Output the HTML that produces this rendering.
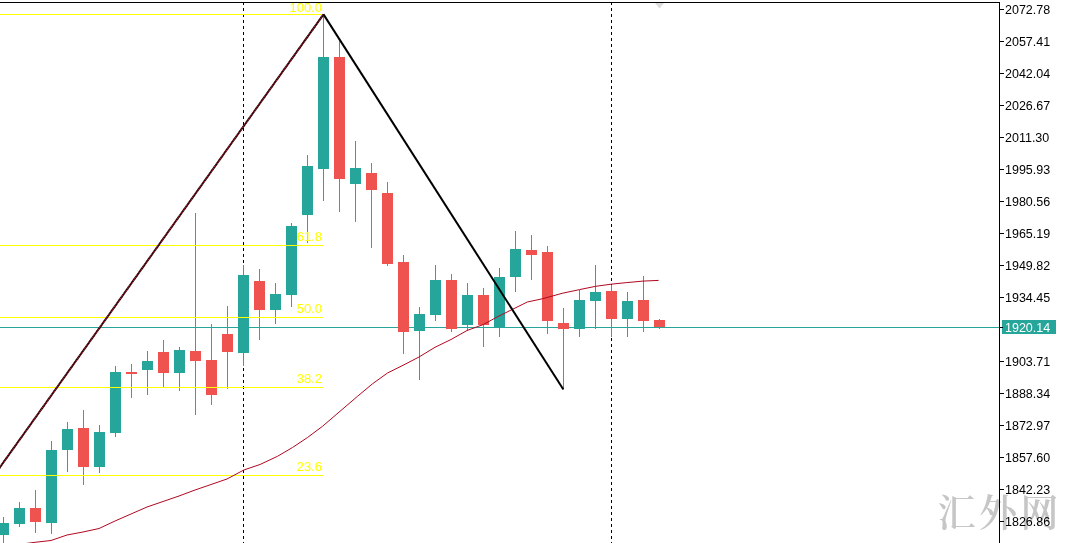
<!DOCTYPE html>
<html><head><meta charset="utf-8"><title>chart</title>
<style>
html,body{margin:0;padding:0;background:#fff;}
body{width:1068px;height:543px;overflow:hidden;position:relative;font-family:"Liberation Sans","Noto Sans CJK SC",sans-serif;}
svg{position:absolute;left:0;top:0;display:block;}
.ax{font-family:"Liberation Sans",sans-serif;font-size:12.5px;fill:#000;}
.fib{font-family:"Liberation Sans",sans-serif;font-size:13px;fill:#ffff00;}
.wm{font-family:"Noto Serif CJK SC","Noto Sans CJK SC",serif;font-size:38px;font-weight:600;fill:#c6c6c6;}
</style></head><body>
<svg width="1068" height="543" viewBox="0 0 1068 543">
<rect x="0" y="0" width="1068" height="543" fill="#fff"/>
<text class="wm" x="937.5" y="526" textLength="121">汇外网</text>
<line x1="243.5" y1="2" x2="243.5" y2="543" stroke="#000" stroke-width="1" stroke-dasharray="3 3" shape-rendering="crispEdges"/>
<line x1="611.5" y1="2" x2="611.5" y2="543" stroke="#000" stroke-width="1" stroke-dasharray="3 3" shape-rendering="crispEdges"/>
<polygon points="655,3 664,3 659.5,8.5" fill="#dcdcdc"/>
<rect x="0" y="327" width="1000" height="1" fill="#26a69a" shape-rendering="crispEdges"/>
<g shape-rendering="crispEdges">
<rect x="3" y="517" width="1" height="28" fill="#26a69a"/><rect x="-2" y="523" width="11" height="12" fill="#26a69a"/>
<rect x="19" y="502" width="1" height="25" fill="#26a69a"/><rect x="14" y="508" width="11" height="16" fill="#26a69a"/>
<rect x="35" y="490" width="1" height="43" fill="#ef5350"/><rect x="30" y="508" width="11" height="14" fill="#ef5350"/>
<rect x="51" y="441" width="1" height="93" fill="#26a69a"/><rect x="46" y="450" width="11" height="73" fill="#26a69a"/>
<rect x="67" y="422" width="1" height="50" fill="#26a69a"/><rect x="62" y="429" width="11" height="21" fill="#26a69a"/>
<rect x="83" y="410" width="1" height="75" fill="#ef5350"/><rect x="78" y="428" width="11" height="39" fill="#ef5350"/>
<rect x="99" y="425" width="1" height="48" fill="#26a69a"/><rect x="94" y="432" width="11" height="35" fill="#26a69a"/>
<rect x="115" y="366" width="1" height="71" fill="#26a69a"/><rect x="110" y="372" width="11" height="61" fill="#26a69a"/>
<rect x="131" y="364" width="1" height="34" fill="#ef5350"/><rect x="126" y="372" width="11" height="2" fill="#ef5350"/>
<rect x="147" y="351" width="1" height="44" fill="#26a69a"/><rect x="142" y="361" width="11" height="9" fill="#26a69a"/>
<rect x="163" y="340" width="1" height="47" fill="#ef5350"/><rect x="158" y="352" width="11" height="21" fill="#ef5350"/>
<rect x="179" y="347" width="1" height="44" fill="#26a69a"/><rect x="174" y="350" width="11" height="23" fill="#26a69a"/>
<rect x="195" y="213" width="1" height="202" fill="#ef5350"/><rect x="190" y="351" width="11" height="10" fill="#ef5350"/>
<rect x="211" y="324" width="1" height="81" fill="#ef5350"/><rect x="206" y="360" width="11" height="35" fill="#ef5350"/>
<rect x="227" y="306" width="1" height="83" fill="#ef5350"/><rect x="222" y="334" width="11" height="18" fill="#ef5350"/>
<rect x="243" y="265" width="1" height="101" fill="#26a69a"/><rect x="238" y="275" width="11" height="78" fill="#26a69a"/>
<rect x="259" y="269" width="1" height="71" fill="#ef5350"/><rect x="254" y="281" width="11" height="29" fill="#ef5350"/>
<rect x="275" y="283" width="1" height="41" fill="#26a69a"/><rect x="270" y="294" width="11" height="16" fill="#26a69a"/>
<rect x="291" y="223" width="1" height="84" fill="#26a69a"/><rect x="286" y="226" width="11" height="69" fill="#26a69a"/>
<rect x="307" y="155" width="1" height="88" fill="#26a69a"/><rect x="302" y="166" width="11" height="49" fill="#26a69a"/>
<rect x="323" y="14" width="1" height="187" fill="#26a69a"/><rect x="318" y="57" width="11" height="112" fill="#26a69a"/>
<rect x="339" y="41" width="1" height="171" fill="#ef5350"/><rect x="334" y="57" width="11" height="122" fill="#ef5350"/>
<rect x="355" y="141" width="1" height="81" fill="#26a69a"/><rect x="350" y="168" width="11" height="16" fill="#26a69a"/>
<rect x="371" y="163" width="1" height="85" fill="#ef5350"/><rect x="366" y="173" width="11" height="17" fill="#ef5350"/>
<rect x="387" y="182" width="1" height="84" fill="#ef5350"/><rect x="382" y="193" width="11" height="71" fill="#ef5350"/>
<rect x="403" y="255" width="1" height="99" fill="#ef5350"/><rect x="398" y="262" width="11" height="70" fill="#ef5350"/>
<rect x="419" y="307" width="1" height="73" fill="#26a69a"/><rect x="414" y="314" width="11" height="17" fill="#26a69a"/>
<rect x="435" y="265" width="1" height="56" fill="#26a69a"/><rect x="430" y="280" width="11" height="35" fill="#26a69a"/>
<rect x="451" y="274" width="1" height="58" fill="#ef5350"/><rect x="446" y="280" width="11" height="49" fill="#ef5350"/>
<rect x="467" y="283" width="1" height="48" fill="#26a69a"/><rect x="462" y="295" width="11" height="30" fill="#26a69a"/>
<rect x="483" y="288" width="1" height="59" fill="#ef5350"/><rect x="478" y="295" width="11" height="30" fill="#ef5350"/>
<rect x="499" y="268" width="1" height="69" fill="#26a69a"/><rect x="494" y="277" width="11" height="50" fill="#26a69a"/>
<rect x="515" y="231" width="1" height="61" fill="#26a69a"/><rect x="510" y="249" width="11" height="28" fill="#26a69a"/>
<rect x="531" y="235" width="1" height="45" fill="#ef5350"/><rect x="526" y="250" width="11" height="5" fill="#ef5350"/>
<rect x="547" y="246" width="1" height="88" fill="#ef5350"/><rect x="542" y="252" width="11" height="69" fill="#ef5350"/>
<rect x="563" y="308" width="1" height="81" fill="#ef5350"/><rect x="558" y="323" width="11" height="6" fill="#ef5350"/>
<rect x="579" y="290" width="1" height="47" fill="#26a69a"/><rect x="574" y="300" width="11" height="29" fill="#26a69a"/>
<rect x="595" y="265" width="1" height="64" fill="#26a69a"/><rect x="590" y="292" width="11" height="9" fill="#26a69a"/>
<rect x="611" y="285" width="1" height="52" fill="#ef5350"/><rect x="606" y="291" width="11" height="28" fill="#ef5350"/>
<rect x="627" y="292" width="1" height="45" fill="#26a69a"/><rect x="622" y="301" width="11" height="18" fill="#26a69a"/>
<rect x="643" y="276" width="1" height="56" fill="#ef5350"/><rect x="638" y="300" width="11" height="21" fill="#ef5350"/>
<rect x="659" y="319" width="1" height="10" fill="#ef5350"/><rect x="654" y="320" width="11" height="7" fill="#ef5350"/>
</g>
<rect x="0" y="14" width="323" height="1" fill="#ffff00" shape-rendering="crispEdges"/><text class="fib" x="322" y="11.5" text-anchor="end">100.0</text>
<rect x="0" y="245" width="323" height="1" fill="#ffff00" shape-rendering="crispEdges"/><text class="fib" x="322" y="241" text-anchor="end">61.8</text>
<rect x="0" y="317" width="323" height="1" fill="#ffff00" shape-rendering="crispEdges"/><text class="fib" x="322" y="313" text-anchor="end">50.0</text>
<rect x="0" y="387" width="323" height="1" fill="#ffff00" shape-rendering="crispEdges"/><text class="fib" x="322" y="383" text-anchor="end">38.2</text>
<rect x="0" y="475" width="323" height="1" fill="#ffff00" shape-rendering="crispEdges"/><text class="fib" x="322" y="471" text-anchor="end">23.6</text>
<polyline points="26,543.5 35,542.3 51,540.5 67,535 83,532 99,528.5 115,521 131,514 147,507 163,501.5 179,496 195,490 211,484.5 227,479 243.8,470 260,464.5 277.5,456.3 292.5,447.5 307.5,437.5 322.5,426.3 340,411.3 357.5,396.3 372.5,383.8 387.5,373 403,365.3 419,357 435,347.3 451,339.5 467,330.5 483.2,324.6 496.9,317.1 511.8,309.7 527.3,302 542.3,298.8 562.2,293.3 579.6,289.6 595.7,286.3 611.9,284.1 626.8,282.6 643,281.1 658.6,280.4" fill="none" stroke="#b00820" stroke-width="1"/>
<line x1="-10" y1="481.2" x2="323.5" y2="14.4" stroke="#000" stroke-width="1.9"/>
<line x1="-10" y1="481.2" x2="323.5" y2="14.4" stroke="#a81c2c" stroke-width="1.9" stroke-dasharray="1 1"/>
<line x1="323.5" y1="14.4" x2="563.4" y2="389.5" stroke="#000" stroke-width="2"/>
<rect x="0" y="2" width="1000" height="1" fill="#000" shape-rendering="crispEdges"/>
<rect x="999" y="2" width="1" height="541" fill="#000" shape-rendering="crispEdges"/>
<rect x="1000" y="9" width="4" height="1" fill="#000" shape-rendering="crispEdges"/><text class="ax" x="1005" y="14">2072.78</text>
<rect x="1000" y="41" width="4" height="1" fill="#000" shape-rendering="crispEdges"/><text class="ax" x="1005" y="46">2057.41</text>
<rect x="1000" y="73" width="4" height="1" fill="#000" shape-rendering="crispEdges"/><text class="ax" x="1005" y="78">2042.04</text>
<rect x="1000" y="105" width="4" height="1" fill="#000" shape-rendering="crispEdges"/><text class="ax" x="1005" y="110">2026.67</text>
<rect x="1000" y="137" width="4" height="1" fill="#000" shape-rendering="crispEdges"/><text class="ax" x="1005" y="142">2011.30</text>
<rect x="1000" y="169" width="4" height="1" fill="#000" shape-rendering="crispEdges"/><text class="ax" x="1005" y="174">1995.93</text>
<rect x="1000" y="201" width="4" height="1" fill="#000" shape-rendering="crispEdges"/><text class="ax" x="1005" y="206">1980.56</text>
<rect x="1000" y="233" width="4" height="1" fill="#000" shape-rendering="crispEdges"/><text class="ax" x="1005" y="238">1965.19</text>
<rect x="1000" y="265" width="4" height="1" fill="#000" shape-rendering="crispEdges"/><text class="ax" x="1005" y="270">1949.82</text>
<rect x="1000" y="297" width="4" height="1" fill="#000" shape-rendering="crispEdges"/><text class="ax" x="1005" y="302">1934.45</text>
<rect x="1000" y="361" width="4" height="1" fill="#000" shape-rendering="crispEdges"/><text class="ax" x="1005" y="366">1903.71</text>
<rect x="1000" y="393" width="4" height="1" fill="#000" shape-rendering="crispEdges"/><text class="ax" x="1005" y="398">1888.34</text>
<rect x="1000" y="425" width="4" height="1" fill="#000" shape-rendering="crispEdges"/><text class="ax" x="1005" y="430">1872.97</text>
<rect x="1000" y="457" width="4" height="1" fill="#000" shape-rendering="crispEdges"/><text class="ax" x="1005" y="462">1857.60</text>
<rect x="1000" y="489" width="4" height="1" fill="#000" shape-rendering="crispEdges"/><text class="ax" x="1005" y="494">1842.23</text>
<rect x="1000" y="521" width="4" height="1" fill="#000" shape-rendering="crispEdges"/><text class="ax" x="1005" y="526">1826.86</text>
<rect x="1002" y="320" width="54" height="14" fill="#26a69a" shape-rendering="crispEdges"/><rect x="1000" y="327" width="3" height="1" fill="#000" shape-rendering="crispEdges"/><text class="ax" x="1005" y="332" style="fill:#fff">1920.14</text>
</svg>
</body></html>
